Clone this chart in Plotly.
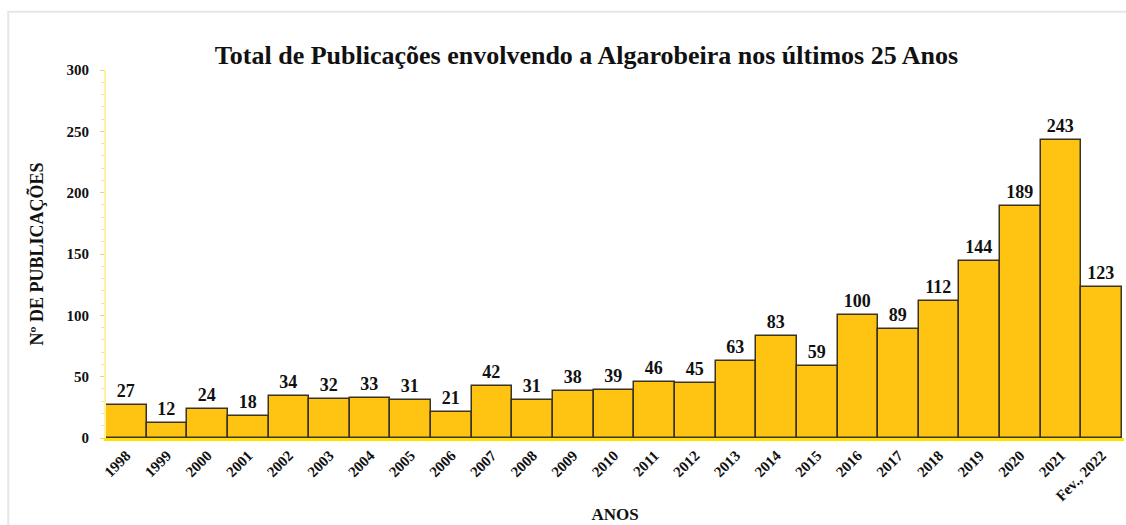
import plotly.graph_objects as go

# Publicações por ano
anos = ["1998", "1999", "2000", "2001", "2002", "2003", "2004", "2005", "2006",
        "2007", "2008", "2009", "2010", "2011", "2012", "2013", "2014", "2015",
        "2016", "2017", "2018", "2019", "2020", "2021", "Fev., 2022"]
publicacoes = [27, 12, 24, 18, 34, 32, 33, 31, 21, 42, 31, 38, 39, 46, 45,
               63, 83, 59, 100, 89, 112, 144, 189, 243, 123]
y_ticks = [0, 50, 100, 150, 200, 250, 300]

serif = "Liberation Serif, Times New Roman, serif"

fig = go.Figure(go.Bar(
    x=anos,
    y=publicacoes,
    text=[f"<b>{v}</b>" for v in publicacoes],
    textposition="outside",
    cliponaxis=False,
    textfont=dict(family=serif, size=18, color="#111111"),
    marker=dict(color="#FFC412", line=dict(color="#3a3320", width=1.5)),
    width=1.0,
))

fig.update_layout(
    width=1126, height=525,
    margin=dict(l=106, r=2, t=70, b=87),
    paper_bgcolor="white", plot_bgcolor="white",
    bargap=0,
    showlegend=False,
    title=dict(
        text="<b>Total de Publicações envolvendo a Algarobeira nos últimos 25 Anos</b>",
        font=dict(family=serif, size=26, color="#111111"),
        x=0.472, xanchor="center", xref="paper", y=0.895, yanchor="middle",
    ),
    font=dict(family=serif, color="#111111"),
    xaxis=dict(
        title=dict(text="<b>ANOS</b>", font=dict(family=serif, size=17), standoff=6),
        tickangle=-45,
        tickfont=dict(family=serif, size=15, weight="bold"),
        showline=True, linecolor="#FFE000", linewidth=3,
        showgrid=False, ticks="",
        range=[-0.5, 24.55],
    ),
    yaxis=dict(
        title=dict(text="<b>Nº DE PUBLICAÇÕES</b>", font=dict(family=serif, size=18), standoff=18),
        range=[0, 300],
        tickvals=y_ticks,
        tickfont=dict(family=serif, size=15, weight="bold"),
        ticklabelstandoff=8,
        showline=True, linecolor="#FFF2A0", linewidth=2,
        showgrid=False, zeroline=False,
        ticks="outside", ticklen=4, tickcolor="#E8D870",
        minor=dict(dtick=10, ticks="outside", ticklen=3, tickcolor="#EEE3A0"),
    ),
    shapes=[dict(
        type="rect", xref="paper", yref="paper",
        x0=-0.096, x1=1.05, y0=-0.3, y1=1.158,
        line=dict(color="#E6E6E6", width=2), layer="below",
    )],
)

fig.write_html("out.html")
